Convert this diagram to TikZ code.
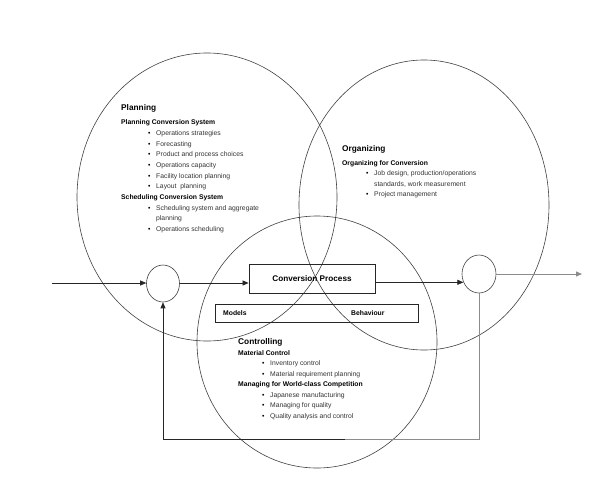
\documentclass[tikz,border=0pt]{standalone}
\usepackage{fontspec}
\setmainfont{Liberation Sans}
\usetikzlibrary{positioning}
\usetikzlibrary{shapes.geometric}
\usetikzlibrary{arrows.meta}
\newcommand\itm[2][27pt]{\hspace*{#1}\makebox[8pt][l]{\textbullet}{\color{black!80}#2}}
\newcommand\cont[2][35pt]{\hspace*{#1}{\color{black!80}#2}}

\begin{document}
\begin{tikzpicture}[x=1pt, y=-1pt,
    oval/.style={draw=black!75, line width=0.6pt, ellipse, inner sep=0},
    blk/.style={draw=black!85, line width=0.8pt, inner sep=0},
    title/.style={anchor=base west, inner sep=0, font=\fontsize{8.3}{10}\selectfont\bfseries},
    txt/.style={anchor=north west, align=left, inner sep=0},
    arr/.style={black!85, line width=0.7pt, -{Triangle[length=6pt,width=5pt]}},
    garr/.style={black!45, line width=0.8pt, -{Triangle[length=6pt,width=5pt]}}]
    \useasboundingbox (0,0) rectangle (616,480);
    % three big circles
    \node[oval, minimum width=260, minimum height=288] (plan) at (207,197) {};
    \node[oval, minimum width=250, minimum height=290] (org) at (424,205) {};
    \node[oval, minimum width=240, minimum height=252] (ctrl) at (317,342) {};
    % small circles and boxes
    \node[oval, minimum width=33, minimum height=37] (lc) at (163,283.5) {};
    \node[oval, minimum width=34, minimum height=38] (rc) at (479,274) {};
    \node[blk, minimum width=126, minimum height=29, font=\fontsize{8.2}{10}\selectfont\bfseries] (conv) at (312,278.5) {Conversion Process};
    \node[blk, minimum width=203, minimum height=18] (mb) at (316.5,313) {};
    \node[anchor=west, inner sep=0, font=\fontsize{6.8}{8}\selectfont\bfseries] (models) at (223,313) {Models};
    \node[anchor=west, inner sep=0, font=\fontsize{6.8}{8}\selectfont\bfseries] (behav) at (351,313) {Behaviour};
    % flow
    \coordinate (in) at (52,283);
    \coordinate (out) at (582,274);
    \coordinate (fbmid) at (345,439);
    \draw[arr] (in) -- (lc.west |- in);
    \draw[arr] (lc.east |- in) -- (conv.west |- in);
    \draw[arr] (conv.east |- rc.208) -- (rc.208);
    \draw[garr] (rc.east) -- (out);
    \draw[black!45, line width=0.8pt] (rc.south) |- (fbmid);
    \draw[arr] (fbmid) -| (lc.south);
    % texts
    \node[title] (plantit) at (121,110) {Planning};
    \node[txt, font=\fontsize{6.8}{10.7}\selectfont] (plantxt) at (121,119.5) {\textbf{Planning Conversion System}\\
        \itm{Operations strategies}\\
        \itm{Forecasting}\\
        \itm{Product and process choices}\\
        \itm{Operations capacity}\\
        \itm{Facility location planning}\\
        \itm{Layout\ \ planning}\\
        \textbf{Scheduling Conversion System}\\
        \itm{Scheduling system and aggregate}\\
        \cont{planning}\\
        \itm{Operations scheduling}};
    \node[title] (orgtit) at (342,151) {Organizing};
    \node[txt, font=\fontsize{6.8}{10.2}\selectfont] (orgtxt) at (342,160.5) {\textbf{Organizing for Conversion}\\
        \itm[24pt]{Job design, production/operations}\\
        \cont[32pt]{standards, work measurement}\\
        \itm[24pt]{Project management}};
    \node[title] (ctrltit) at (238,344.5) {Controlling};
    \node[txt, font=\fontsize{6.8}{10.5}\selectfont] (ctrltxt) at (238,350) {\textbf{Material Control}\\
        \itm[24pt]{Inventory control}\\
        \itm[24pt]{Material requirement planning}\\
        \textbf{Managing for World-class Competition}\\
        \itm[24pt]{Japanese manufacturing}\\
        \itm[24pt]{Managing for quality}\\
        \itm[24pt]{Quality analysis and control}};
\end{tikzpicture}
\end{document}
